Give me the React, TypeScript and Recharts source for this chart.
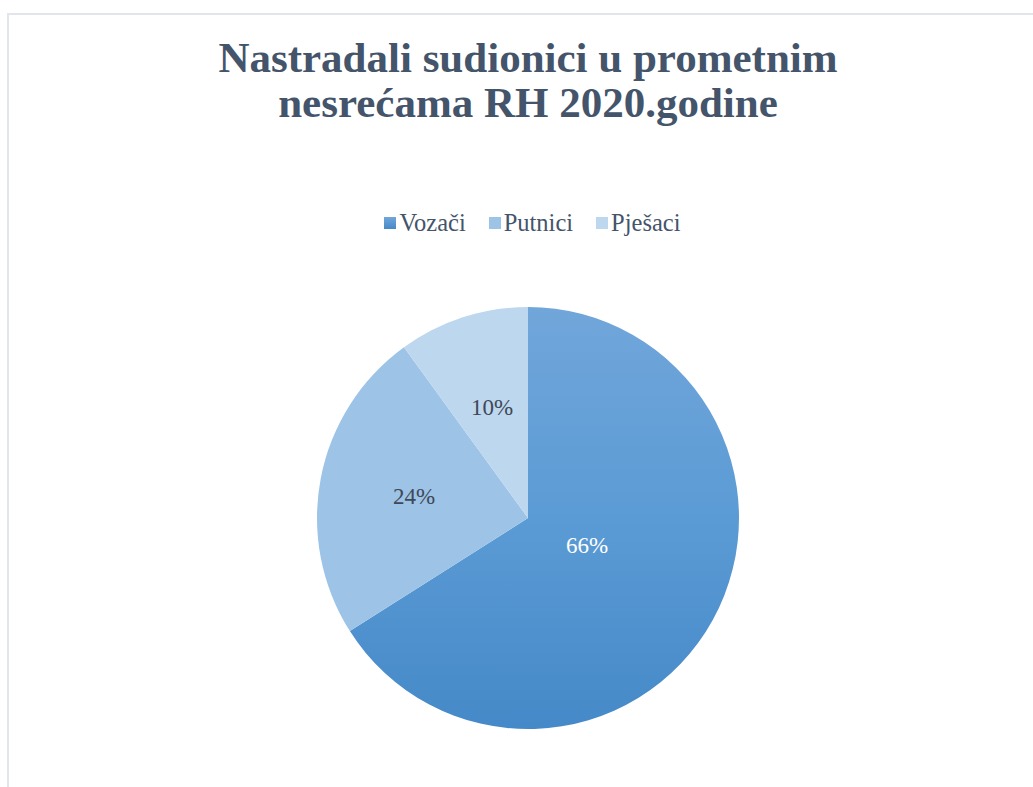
import React from 'react';
import { PieChart, Pie, Cell, Legend } from 'recharts';

const CATEGORIES = ['Vozači', 'Putnici', 'Pješaci'];
const SHARES = [66, 24, 10];
const COLORS = ['url(#vozaciFill)', '#9dc3e6', '#bdd7ee'];
const LEGEND_COLORS = ['linear-gradient(#71a6da, #4589c8)', '#9dc3e6', '#bdd7ee'];
const TITLE_LINES = ['Nastradali sudionici u prometnim', 'nesrećama RH 2020.godine'];

const data = CATEGORIES.map((name, i) => ({ name, value: SHARES[i] }));

const RADIAN = Math.PI / 180;
const SERIF = '"Liberation Serif", "Times New Roman", serif';

const renderLabel = (props: any) => {
  const { cx, cy, midAngle, outerRadius, percent, index } = props;
  // big slice label sits closer to the centre, like Excel's best fit
  const r = outerRadius * (percent > 0.5 ? 0.32 : 0.55);
  const x = cx + r * Math.cos(-midAngle * RADIAN);
  const y = cy + r * Math.sin(-midAngle * RADIAN) - (percent > 0.5 ? 5 : 0);
  return (
    <text
      x={x}
      y={y}
      textAnchor="middle"
      dominantBaseline="central"
      fontFamily={SERIF}
      fontSize={23}
      fill={index === 0 ? '#ffffff' : '#404858'}
    >
      {`${Math.round(percent * 100)}%`}
    </text>
  );
};

const LegendContent = (props: any) => {
  const items = [...(props.payload || [])].sort(
    (a: any, b: any) => CATEGORIES.indexOf(a.value) - CATEGORIES.indexOf(b.value)
  );
  return (
    <div
      style={{
        display: 'flex',
        justifyContent: 'center',
        alignItems: 'center',
        paddingLeft: 32,
        fontFamily: SERIF,
        fontSize: 24.5,
        color: '#44546a',
      }}
    >
      {items.map((it: any, i: number) => (
        <div
          key={it.value}
          style={{ display: 'flex', alignItems: 'center', marginRight: i < items.length - 1 ? 23 : 0 }}
        >
          <span
            style={{
              display: 'inline-block',
              width: 12,
              height: 12,
              marginRight: 3,
              background: LEGEND_COLORS[CATEGORIES.indexOf(it.value)],
            }}
          />
          <span>{it.value}</span>
        </div>
      ))}
    </div>
  );
};

export default function App() {
  return (
    <div
      style={{
        position: 'fixed',
        left: 0,
        top: 0,
        width: 1033,
        height: 787,
        background: '#ffffff',
        overflow: 'hidden',
      }}
    >
      <div
        style={{
          position: 'absolute',
          left: 7,
          top: 13,
          right: 0,
          bottom: 0,
          borderTop: '2px solid #e2e6eb',
          borderLeft: '2px solid #e2e6eb',
        }}
      />
      <div
        style={{
          position: 'absolute',
          left: 0,
          top: 35,
          width: 1056,
          textAlign: 'center',
          fontFamily: SERIF,
          fontWeight: 'bold',
          fontSize: 43,
          lineHeight: '45px',
          color: '#44546a',
        }}
      >
        {TITLE_LINES.map((t) => (
          <div key={t}>{t}</div>
        ))}
      </div>
      <div style={{ position: 'absolute', left: 0, top: 0 }}>
        <PieChart width={1033} height={787} margin={{ top: 0, right: 0, bottom: 0, left: 0 }}>
          <defs>
            <linearGradient id="vozaciFill" x1="0" y1="0" x2="0" y2="1">
              <stop offset="0%" stopColor="#71a6da" />
              <stop offset="50%" stopColor="#5b9bd5" />
              <stop offset="100%" stopColor="#4589c8" />
            </linearGradient>
          </defs>
          <Legend
            content={<LegendContent />}
            verticalAlign="top"
            itemSorter={null as any}
            wrapperStyle={{ top: 209, left: 0, width: 1033 }}
          />
          <Pie
            data={data}
            dataKey="value"
            nameKey="name"
            cx={528}
            cy={490}
            outerRadius={211}
            startAngle={90}
            endAngle={-270}
            stroke="none"
            label={renderLabel}
            labelLine={false}
            isAnimationActive={false}
          >
            {data.map((d, i) => (
              <Cell key={d.name} fill={COLORS[i]} />
            ))}
          </Pie>
        </PieChart>
      </div>
    </div>
  );
}
